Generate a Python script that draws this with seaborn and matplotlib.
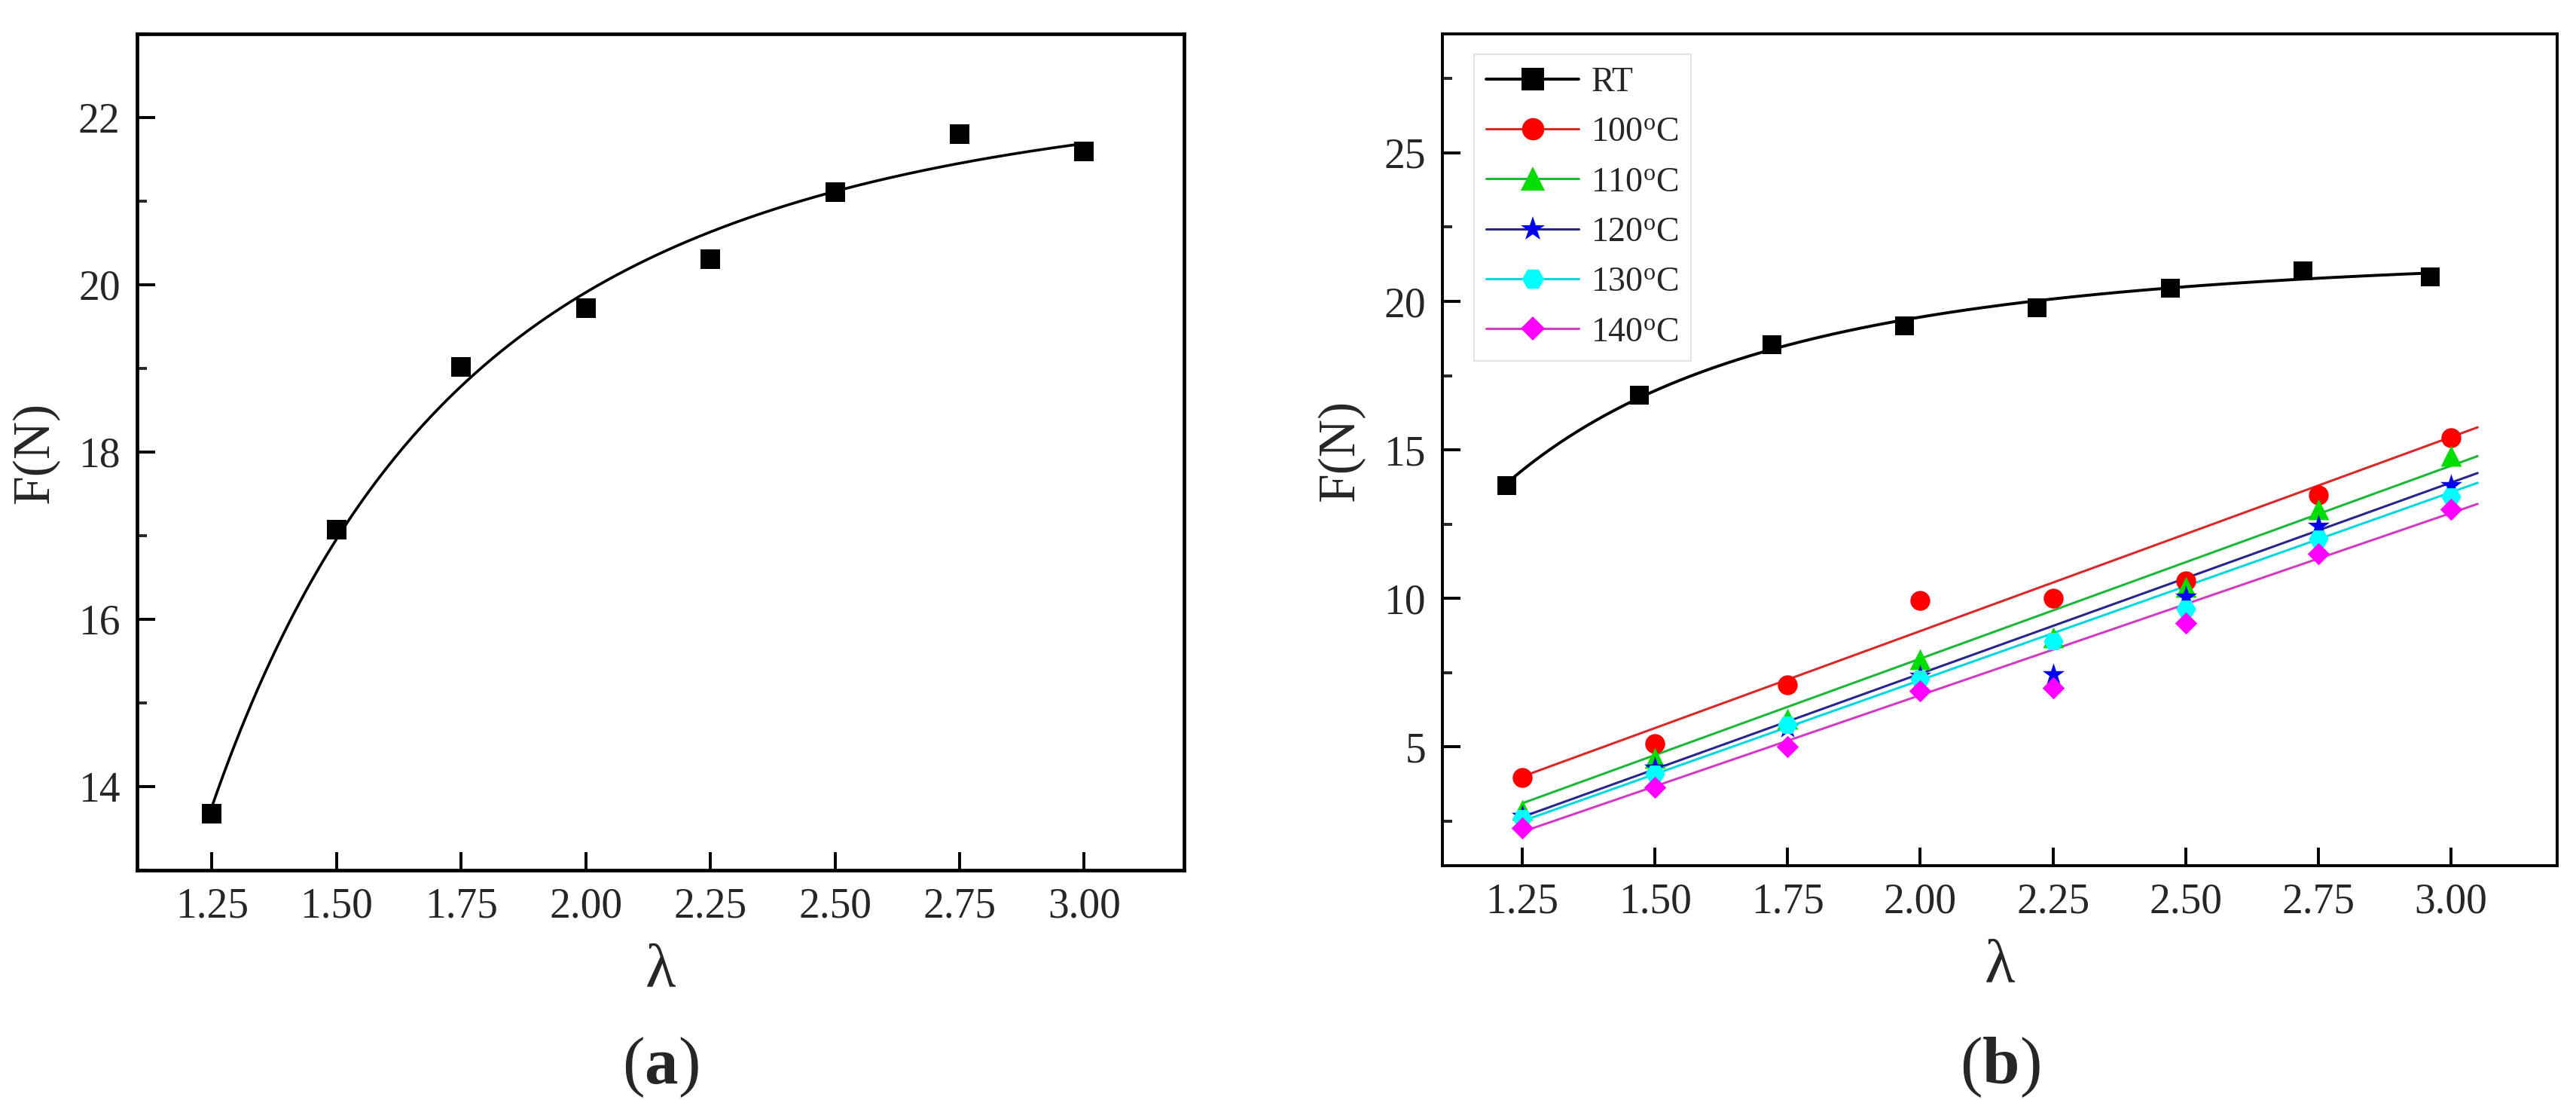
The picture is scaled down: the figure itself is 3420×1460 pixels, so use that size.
import numpy as np
import pandas as pd
import matplotlib
matplotlib.use("Agg")
import matplotlib.pyplot as plt
from matplotlib.lines import Line2D
from matplotlib.ticker import MultipleLocator, FormatStrFormatter
import seaborn as sns

# ---------------- data ----------------
# panel (a)
lam_a = [1.25, 1.50, 1.75, 2.00, 2.25, 2.50, 2.75, 3.00]
force_a = [13.68, 17.07, 19.02, 19.72, 20.31, 21.11, 21.80, 21.59]

# panel (b)
lam_rt = [1.22, 1.47, 1.72, 1.97, 2.22, 2.47, 2.72, 2.96]
force_rt = [13.80, 16.85, 18.55, 19.20, 19.80, 20.45, 21.05, 20.85]

lam_b = [1.25, 1.50, 1.75, 2.00, 2.25, 2.50, 2.75, 3.00]
force_100 = [3.96, 5.12, 7.08, 9.94, 10.01, 10.60, 13.49, 15.40]
force_110 = [2.87, 4.62, 5.95, 7.96, 8.69, 10.39, 13.00, 14.81]
force_120 = [2.68, 4.30, 5.65, 7.40, 7.45, 10.06, 12.45, 13.80]
force_130 = [2.61, 4.10, 5.75, 7.30, 8.55, 9.66, 12.00, 13.44]
force_140 = [2.26, 3.63, 5.00, 6.89, 6.99, 9.16, 11.50, 13.01]

# linear-fit lines (value at start and end of line)
fit_lam = [1.25, 3.05]
fit_100 = [4.00, 15.76]
fit_110 = [3.10, 14.79]
fit_120 = [2.64, 14.22]
fit_130 = [2.50, 13.89]
fit_140 = [2.14, 13.18]

series_labels = ["RT", "100$^{\\mathrm{o}}$C", "110$^{\\mathrm{o}}$C",
                 "120$^{\\mathrm{o}}$C", "130$^{\\mathrm{o}}$C", "140$^{\\mathrm{o}}$C"]

# ---------------- style ----------------
sns.set_theme(style="ticks")
plt.rcParams["font.family"] = ["Liberation Serif", "DejaVu Serif"]
plt.rcParams["mathtext.fontset"] = "custom"
plt.rcParams["mathtext.rm"] = "Liberation Serif"
plt.rcParams["mathtext.it"] = "Liberation Serif:italic"
plt.rcParams["mathtext.bf"] = "Liberation Serif:bold"

TICK_FS = 40
YLABEL_FS = 50
XLABEL_FS = 60
PANEL_FS = 64

fig = plt.figure(figsize=(34.2, 14.6), dpi=100)
ax_a = fig.add_axes([0.0532, 0.2089, 0.4064, 0.7603])
ax_b = fig.add_axes([0.5600, 0.2130, 0.4327, 0.7560])


def lsq_curve(x, y, xs):
    x = np.asarray(x, float)
    y = np.asarray(y, float)
    A = np.column_stack([np.ones_like(x), 1 / x, 1 / x ** 2])
    coef, *_ = np.linalg.lstsq(A, y, rcond=None)
    As = np.column_stack([np.ones_like(xs), 1 / xs, 1 / xs ** 2])
    return As @ coef


def style_axes(ax, ylim, ymaj, ymin, spine_w):
    ax.set_xlim(1.1, 3.2)
    ax.set_ylim(*ylim)
    ax.xaxis.set_major_locator(MultipleLocator(0.25))
    ax.xaxis.set_major_formatter(FormatStrFormatter("%.2f"))
    ax.yaxis.set_major_locator(MultipleLocator(ymaj))
    ax.yaxis.set_minor_locator(MultipleLocator(ymin))
    ax.tick_params(axis="both", which="major", direction="in", length=17,
                   width=2.8, labelsize=TICK_FS, pad=16, color="black",
                   top=False, right=False)
    ax.tick_params(axis="y", which="minor", direction="in", length=9.5,
                   width=2.8, left=True, right=False)
    ax.tick_params(axis="x", which="minor", bottom=False, top=False)
    for sp in ax.spines.values():
        sp.set_visible(True)
        sp.set_linewidth(spine_w)
        sp.set_color("black")
    ax.set_xlabel("λ", fontsize=XLABEL_FS, labelpad=16)
    ax.set_ylabel("F(N)", fontsize=YLABEL_FS, labelpad=18)
    ax.set_facecolor("white")


# ---------------- panel (a) ----------------
xs_a = np.linspace(lam_a[0], lam_a[-1], 300)
sns.lineplot(x=xs_a, y=lsq_curve(lam_a, force_a, xs_a), ax=ax_a,
             color="black", linewidth=2.6, legend=False)
sns.scatterplot(x=lam_a, y=force_a, ax=ax_a, marker="s", s=19 ** 2,
                color="black", edgecolor="black", linewidth=0, zorder=3,
                legend=False)
style_axes(ax_a, (13, 23), 2, 1, 3.4)

# ---------------- panel (b) ----------------
xs_rt = np.linspace(lam_rt[0], lam_rt[-1], 300)
sns.lineplot(x=xs_rt, y=lsq_curve(lam_rt, force_rt, xs_rt), ax=ax_b,
             color="black", linewidth=2.8, legend=False)
sns.scatterplot(x=lam_rt, y=force_rt, ax=ax_b, marker="s", s=18 ** 2,
                color="black", linewidth=0, zorder=4, legend=False)

temp_series = [
    (force_100, fit_100, "#FF0000", "#D82828", "o", 19),
    (force_110, fit_110, "#00DD00", "#1DB83A", "^", 20),
    (force_120, fit_120, "#0000EE", "#26268C", "*", 22),
    (force_130, fit_130, "#00FFFF", "#00D8E0", "H", 19),
    (force_140, fit_140, "#FF00FF", "#D23CC4", "D", 15),
]

for vals, fit, mcol, lcol, mk, ms in temp_series:
    sns.lineplot(x=fit_lam, y=fit, ax=ax_b, color=lcol, linewidth=2.2,
                 legend=False, zorder=2)
for vals, fit, mcol, lcol, mk, ms in temp_series:
    sns.scatterplot(x=lam_b, y=vals, ax=ax_b, marker=mk, s=ms ** 2,
                    color=mcol, linewidth=0, zorder=3, legend=False)

style_axes(ax_b, (1, 29), 5, 2.5, 2.8)

handles = [Line2D([], [], color="black", linewidth=2.8, marker="s",
                  markersize=21, markerfacecolor="black", markeredgewidth=0)]
for vals, fit, mcol, lcol, mk, ms in temp_series:
    handles.append(Line2D([], [], color=lcol, linewidth=2.2, marker=mk,
                          markersize=ms * 1.12, markerfacecolor=mcol,
                          markeredgewidth=0))
leg = ax_b.legend(handles, series_labels, loc="upper left",
                  bbox_to_anchor=(0.028, 0.9755), borderaxespad=0,
                  fontsize=33, frameon=True, fancybox=False,
                  handlelength=2.7, handletextpad=0.35, labelspacing=0.52,
                  borderpad=0.35)
leg.get_frame().set_edgecolor("#DDDDDD")
leg.get_frame().set_linewidth(1.5)
leg.get_frame().set_facecolor("white")

# ---------------- panel letters ----------------
fig.text(0.2564, 0.030, r"($\mathbf{a}$)", fontsize=PANEL_FS,
         ha="center", va="center")
fig.text(0.7763, 0.030, r"($\mathbf{b}$)", fontsize=PANEL_FS,
         ha="center", va="center")

fig.savefig("out.png", dpi=100, facecolor="white")
